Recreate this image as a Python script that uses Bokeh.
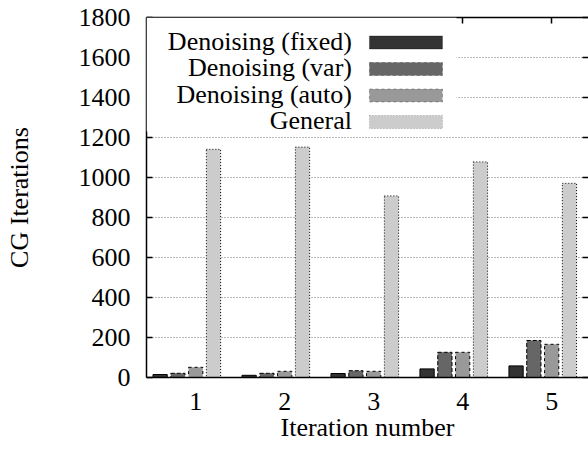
from bokeh.plotting import figure
from bokeh.models import Range1d, LinearAxis, FixedTicker, Label, BoxAnnotation
from bokeh.embed import file_html
from bokeh.resources import INLINE

# ---- data ----
iterations = [1, 2, 3, 4, 5]
fixed = [15, 11, 20, 43, 58]
var = [21, 21, 34, 126, 185]
auto = [51, 31, 31, 126, 166]
general = [1141, 1152, 908, 1078, 971]
series_names = ["Denoising (fixed)", "Denoising (var)", "Denoising (auto)", "General"]
y_ticks = [0, 200, 400, 600, 800, 1000, 1200, 1400, 1600, 1800]
x_tick_labels = {1: "1", 2: "2", 3: "3", 4: "4", 5: "5"}

# ---- style ----
FONT = "'Liberation Serif'"
FS = "26px"
fills = ["#333333", "#666666", "#999999", "#cccccc"]
dashes = ["solid", "4 2", "3 3", "1 2"]
series = [fixed, var, auto, general]

p = figure(width=588, height=455, output_backend="svg", toolbar_location=None,
           x_range=Range1d(0.447, 5.414), y_range=Range1d(0, 1800),
           min_border_left=146, min_border_right=0, min_border_top=17,
           min_border_bottom=78)
p.outline_line_color = None
p.background_fill_color = "white"
p.border_fill_color = "white"

# bars
bar_w = 0.16
for j, (vals, fc, dash) in enumerate(zip(series, fills, dashes)):
    xs = [k - 0.4 + 0.2 * j for k in iterations]
    p.vbar(x=xs, top=vals, bottom=0, width=bar_w, fill_color=fc,
           line_color="black", line_width=1, line_dash=dash)

# axes
xa = p.xaxis[0]
xa.ticker = FixedTicker(ticks=iterations)
xa.major_label_overrides = x_tick_labels
xa.major_label_text_font = FONT
xa.major_label_text_font_size = FS
xa.major_label_text_color = "black"
xa.major_tick_in = 0
xa.major_tick_out = 0
xa.minor_tick_line_color = None
xa.major_label_standoff = 15
xa.axis_label = "Iteration number"
xa.axis_label_text_font = FONT
xa.axis_label_text_font_size = FS
xa.axis_label_text_font_style = "normal"
xa.axis_label_text_color = "black"
xa.axis_label_standoff = 0
xa.axis_line_width = 1.5

ya = p.yaxis[0]
ya.ticker = FixedTicker(ticks=y_ticks)
ya.major_label_text_font = FONT
ya.major_label_text_font_size = FS
ya.major_label_text_color = "black"
ya.major_tick_in = 6
ya.major_tick_out = 0
ya.major_tick_line_width = 1.5
ya.minor_tick_line_color = None
ya.major_label_standoff = 16
ya.axis_label = "CG Iterations"
ya.axis_label_text_font = FONT
ya.axis_label_text_font_size = FS
ya.axis_label_text_font_style = "normal"
ya.axis_label_text_color = "black"
ya.axis_label_standoff = 42
ya.axis_line_width = 1.5

top_ax = LinearAxis(ticker=FixedTicker(ticks=iterations),
                    major_label_overrides={k: "" for k in iterations},
                    major_label_text_font_size="1px",
                    major_label_standoff=0, major_tick_in=6, major_tick_out=0,
                    major_tick_line_width=1.5, minor_tick_line_color=None,
                    axis_line_width=1.5)
p.add_layout(top_ax, "above")

right_ax = LinearAxis(ticker=FixedTicker(ticks=y_ticks),
                      major_label_overrides={k: "" for k in y_ticks},
                      major_label_text_font_size="1px",
                      major_label_standoff=0, major_tick_in=6, major_tick_out=0,
                      major_tick_line_width=1.5, minor_tick_line_color=None,
                      axis_line_color=None)
p.add_layout(right_ax, "right")

# grid
p.xgrid.visible = False
p.ygrid.ticker = FixedTicker(ticks=y_ticks)
p.ygrid.grid_line_color = "#777777"
p.ygrid.grid_line_dash = "1 2"
p.ygrid.grid_line_width = 1

# ---- custom legend (label left of sample, like gnuplot) ----
px_x = 89.0      # pixels per x unit
px_y = 0.2       # pixels per y unit
x0 = 0.447
def xd(px):  # pixel offset from frame left -> data x
    return x0 + px / px_x
def yd(px):  # pixel offset from frame top -> data y
    return 1800 - px / px_y

p.add_layout(BoxAnnotation(left=x0, right=xd(310), top=1800, bottom=yd(114),
                           fill_color="white", fill_alpha=1.0, line_color=None,
                           level="annotation"))
row_px = [25, 51.5, 78, 104.5]
for name, fc, dash, rp in zip(series_names, fills, dashes, row_px):
    p.add_layout(BoxAnnotation(left=xd(223), right=xd(296), top=yd(rp - 6.5),
                               bottom=yd(rp + 6.5), fill_color=fc, fill_alpha=1.0,
                               line_color="black", line_width=1, line_dash=dash,
                               level="annotation"))
    p.add_layout(Label(x=xd(205.5), y=yd(rp - 1.5), text=name, text_align="right",
                       text_baseline="alphabetic", text_font=FONT, text_font_size=FS,
                       text_color="black"))

open("out.html", "w").write(file_html(p, INLINE))
